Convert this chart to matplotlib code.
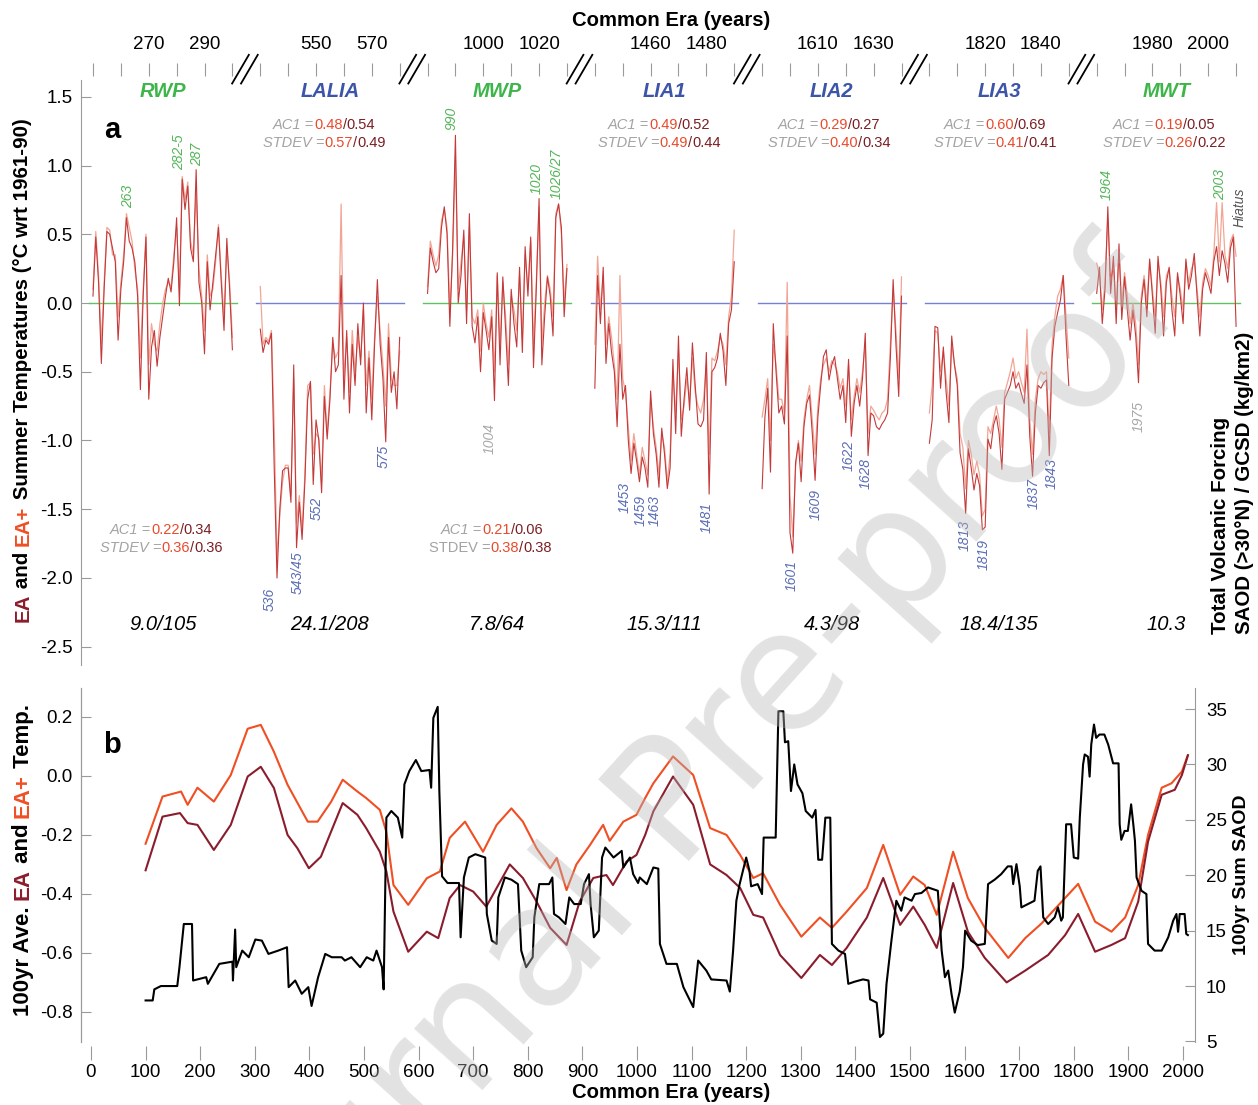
import matplotlib.pyplot as plt

plt.rcParams['font.family'] = ['Liberation Sans', 'DejaVu Sans']
plt.rcParams['axes.unicode_minus'] = False

# ======================================================
# Data : panel a (annual EA / EA+ anomalies per window)
# ======================================================

seg_names = ['RWP', 'LALIA', 'MWP', 'LIA1', 'LIA2', 'LIA3', 'MWT']
seg_start = [250, 530, 980, 1440, 1590, 1800, 1960]
seg_warm = [True, False, True, False, False, False, True]
seg_forcing = ['9.0/105', '24.1/208', '7.8/64', '15.3/111', '4.3/98', '18.4/135', '10.3']

ac1_ea_plus = ['0.22', '0.48', '0.21', '0.49', '0.29', '0.60', '0.19']
ac1_ea = ['0.34', '0.54', '0.06', '0.52', '0.27', '0.69', '0.05']
sd_ea_plus = ['0.36', '0.57', '0.38', '0.49', '0.40', '0.41', '0.26']
sd_ea = ['0.36', '0.49', '0.38', '0.44', '0.34', '0.41', '0.22']

rwp_ea = [0.05, 0.48, 0.15, -0.44, 0.10, 0.52, 0.50, 0.40, 0.30, -0.27,
          0.10, 0.30, 0.62, 0.45, 0.40, 0.30, 0.05, -0.63, 0.05, 0.48,
          -0.70, -0.32, -0.20, -0.46, -0.25, -0.10, 0.05, 0.18, 0.08, 0.30,
          0.62, -0.02, 0.90, 0.68, 0.85, 0.40, 0.30, 0.97, 0.15, 0.00,
          -0.37, 0.30, -0.05, 0.15, 0.35, 0.55, 0.15, -0.20, 0.47, 0.10, -0.34]
rwp_eap = [0.10, 0.52, 0.20, -0.30, 0.15, 0.55, 0.53, 0.35, 0.35, -0.10,
           0.15, 0.35, 0.65, 0.55, 0.45, 0.25, 0.10, -0.40, 0.10, 0.50,
           -0.45, -0.15, -0.30, -0.35, -0.15, 0.00, 0.10, 0.15, 0.12, 0.35,
           0.55, 0.10, 0.92, 0.75, 0.88, 0.45, 0.35, 0.80, 0.25, 0.05,
           -0.20, 0.35, 0.05, 0.10, 0.30, 0.57, 0.20, -0.10, 0.40, 0.15, -0.25]

lalia_ea = [-0.19, -0.36, -0.27, -0.30, -0.22, -1.20, -2.00, -1.50, -1.22, -1.20,
            -1.20, -1.45, -0.45, -1.78, -1.45, -1.72, -1.30, -0.70, -0.57, -1.32,
            -0.85, -1.00, -1.38, -0.68, -0.99, -0.70, -0.25, -0.50, -0.45, 0.20,
            -0.70, -0.20, -0.80, -0.30, -0.60, -0.15, -0.45, 0.00, -0.80, -0.40,
            -0.85, -0.30, 0.17, -0.30, -0.55, -1.01, -0.25, -0.65, -0.50, -0.77, -0.25]
lalia_eap = [0.12, -0.30, -0.25, -0.28, -0.20, -0.90, -1.85, -1.55, -1.30, -1.18,
             -1.18, -1.40, -0.55, -1.60, -1.40, -1.65, -1.25, -0.60, -0.58, -1.10,
             -0.95, -0.98, -1.30, -0.60, -0.95, -0.65, -0.30, -0.40, -0.35, 0.72,
             -0.55, -0.25, -0.65, -0.20, -0.50, -0.25, -0.40, -0.05, -0.60, -0.35,
             -0.70, -0.25, 0.05, -0.20, -0.45, -0.75, -0.15, -0.55, -0.60, -0.60, -0.35]

mwp_ea = [0.07, 0.40, 0.30, 0.22, 0.25, 0.55, 0.70, 0.50, -0.17, 0.40,
          1.22, 0.00, 0.20, 0.53, -0.15, 0.65, -0.17, -0.29, -0.10, -0.50,
          -0.07, -0.20, -0.34, -0.10, -0.71, 0.22, -0.45, 0.19, -0.20, -0.60,
          0.10, -0.15, -0.32, 0.26, -0.36, 0.41, 0.05, 0.48, -0.47, 0.10,
          0.76, -0.45, -0.10, 0.19, 0.05, -0.24, 0.62, 0.72, 0.55, -0.10, 0.25]
mwp_eap = [0.12, 0.45, 0.35, 0.27, 0.35, 0.60, 0.68, 0.55, -0.05, 0.35,
           1.05, 0.10, 0.30, 0.48, -0.05, 0.55, -0.10, -0.15, -0.05, -0.35,
           0.00, -0.15, -0.25, -0.05, -0.50, 0.20, -0.30, 0.15, -0.10, -0.45,
           0.05, -0.05, -0.20, 0.20, -0.25, 0.35, 0.10, 0.45, -0.30, 0.15,
           0.70, -0.30, 0.00, 0.20, 0.10, -0.10, 0.65, 0.72, 0.50, 0.00, 0.28]

lia1_ea = [-0.62, 0.20, -0.15, 0.26, -0.44, -0.15, -0.36, -0.50, -0.90, -0.30,
           -0.70, -0.60, -1.00, -1.24, -1.02, -1.15, -1.30, -1.12, -1.20, -1.34,
           -0.64, -0.95, -1.10, -1.34, -0.91, -1.10, -1.35, -1.20, -0.41, -0.95,
           -0.24, -0.97, -0.70, -0.47, -0.78, -0.29, -0.60, -0.88, -0.90, -0.85,
           -0.36, -1.39, -0.50, -0.47, -0.40, -0.22, -0.35, -0.60, -0.15, -0.05, 0.30]
lia1_eap = [-0.30, 0.34, -0.05, 0.20, -0.30, -0.10, -0.25, -0.45, -0.70, 0.20,
            -0.55, -0.65, -0.90, -1.15, -0.95, -1.10, -1.25, -1.05, -1.15, -1.25,
            -0.70, -0.90, -1.05, -1.25, -0.95, -1.05, -1.30, -1.10, -0.50, -0.80,
            -0.35, -0.85, -0.75, -0.55, -0.70, -0.40, -0.65, -0.75, -0.80, -0.70,
            -0.45, -1.10, -0.40, -0.42, -0.35, -0.25, -0.30, -0.45, -0.10, 0.05, 0.53]

lia2_ea = [-1.35, -0.83, -0.62, -1.23, -0.15, -0.50, -0.80, -0.75, -0.88, -0.24,
           -1.67, -1.82, -1.16, -1.02, -1.30, -0.90, -0.73, -0.67, -0.95, -1.29,
           -0.83, -0.60, -0.39, -0.34, -0.56, -0.45, -0.39, -0.55, -0.70, -0.60,
           -0.87, -0.41, -0.97, -0.73, -0.60, -0.75, -0.55, -0.22, -1.11, -0.80,
           -0.82, -0.90, -0.92, -0.88, -0.85, -0.80, -0.40, 0.17, -0.30, -0.68, 0.05]
lia2_eap = [-0.83, -0.70, -0.55, -1.00, -0.30, -0.45, -0.70, -0.70, -0.80, 0.15,
            -1.40, -1.70, -1.20, -1.00, -1.15, -0.85, -0.70, -0.60, -0.85, -1.10,
            -0.75, -0.55, -0.45, -0.40, -0.50, -0.42, -0.45, -0.50, -0.62, -0.55,
            -0.75, -0.45, -0.85, -0.68, -0.55, -0.65, -0.50, -0.30, -0.95, -0.75,
            -0.78, -0.82, -0.85, -0.80, -0.78, -0.70, -0.30, 0.10, -0.20, -0.55, 0.19]

lia3_ea = [-1.02, -0.85, -0.17, -0.18, -0.62, -0.32, -0.65, -0.87, -0.24, -0.45,
           -0.60, -1.09, -1.21, -1.53, -1.06, -1.20, -1.36, -1.24, -1.33, -1.65,
           -1.63, -0.99, -1.06, -0.89, -0.82, -0.95, -1.21, -0.70, -0.65, -0.60,
           -0.50, -0.62, -0.58, -0.66, -0.73, -0.45, -0.97, -1.26, -0.80, -0.60,
           -0.62, -0.58, -0.56, -1.11, -0.40, -0.17, -0.07, 0.02, 0.20, -0.24, -0.60]
lia3_eap = [-0.80, -0.60, -0.20, -0.22, -0.50, -0.35, -0.55, -0.75, -0.30, -0.45,
            -0.55, -0.95, -1.05, -1.35, -1.00, -1.10, -1.25, -1.15, -1.25, -1.55,
            -1.50, -0.90, -0.95, -0.85, -0.75, -0.85, -1.05, -0.65, -0.58, -0.50,
            -0.40, -0.55, -0.50, -0.58, -0.65, -0.19, -0.85, -1.10, -0.70, -0.55,
            -0.50, -0.52, -0.50, -0.95, -0.30, -0.10, 0.05, 0.10, 0.20, -0.10, -0.40]

mwt_ea = [0.07, 0.26, -0.15, 0.10, 0.70, 0.07, 0.34, -0.15, 0.43, -0.12,
          0.19, -0.05, -0.27, -0.05, -0.24, -0.58, 0.00, 0.17, -0.10, 0.32,
          0.05, -0.22, 0.34, 0.10, -0.24, 0.15, 0.26, -0.05, -0.24, 0.22,
          0.05, -0.15, 0.32, 0.10, 0.20, 0.36, 0.05, -0.24, 0.10, 0.22,
          0.15, 0.07, 0.30, 0.41, 0.20, 0.38, 0.29, 0.15, 0.40, 0.48, -0.17]
mwt_eap = [0.29, 0.20, -0.05, 0.15, 0.62, 0.15, 0.30, -0.05, 0.38, 0.00,
           0.22, 0.05, -0.15, 0.00, -0.15, -0.45, 0.05, 0.20, 0.00, 0.30,
           0.10, -0.10, 0.30, 0.15, -0.10, 0.20, 0.25, 0.05, -0.10, 0.20,
           0.10, -0.05, 0.30, 0.15, 0.25, 0.30, 0.10, -0.10, 0.15, 0.25,
           0.20, 0.12, 0.35, 0.73, 0.30, 0.73, 0.35, 0.25, 0.45, 0.50, 0.34]

seg_ea = [rwp_ea, lalia_ea, mwp_ea, lia1_ea, lia2_ea, lia3_ea, mwt_ea]
seg_eap = [rwp_eap, lalia_eap, mwp_eap, lia1_eap, lia2_eap, lia3_eap, mwt_eap]

# ======================================================
# Data : panel b (100 yr running means / sums)
# ======================================================

b_eap_years = [100, 131, 165, 177, 195, 225, 256, 287, 311, 335,
               360, 397, 415, 440, 461, 488, 504, 529, 541, 554,
               581, 615, 639, 657, 685, 718, 743, 770, 791, 816,
               841, 853, 871, 889, 914, 938, 950, 975, 999, 1015,
               1030, 1066, 1103, 1134, 1164, 1189, 1213, 1231, 1262, 1301,
               1335, 1357, 1384, 1421, 1451, 1482, 1506, 1527, 1549, 1579,
               1606, 1637, 1680, 1711, 1741, 1778, 1808, 1839, 1869, 1894,
               1918, 1936, 1961, 1979, 1998, 2009]
b_eap = [-0.23, -0.07, -0.053, -0.098, -0.04, -0.087, 0.003, 0.16, 0.173, 0.082,
         -0.03, -0.155, -0.155, -0.087, -0.013, -0.053, -0.075, -0.115, -0.19, -0.37,
         -0.437, -0.347, -0.324, -0.21, -0.155, -0.257, -0.166, -0.11, -0.155, -0.245,
         -0.313, -0.278, -0.387, -0.30, -0.234, -0.166, -0.22, -0.155, -0.132, -0.075,
         -0.025, 0.066, 0.003, -0.177, -0.2, -0.268, -0.346, -0.33, -0.437, -0.545,
         -0.48, -0.515, -0.46, -0.38, -0.234, -0.403, -0.341, -0.37, -0.471, -0.257,
         -0.414, -0.515, -0.617, -0.55, -0.5, -0.426, -0.366, -0.494, -0.528, -0.48,
         -0.37, -0.2, -0.04, -0.025, 0.015, 0.07]

b_ea_years = [100, 131, 163, 177, 195, 225, 256, 287, 311, 335,
              360, 378, 399, 421, 461, 488, 504, 529, 541, 554,
              581, 615, 636, 657, 676, 700, 724, 767, 791, 816,
              841, 871, 895, 920, 944, 956, 981, 999, 1015, 1030,
              1066, 1103, 1134, 1164, 1189, 1213, 1231, 1262, 1301, 1335,
              1357, 1384, 1421, 1451, 1482, 1506, 1527, 1549, 1579, 1606,
              1637, 1677, 1711, 1753, 1784, 1808, 1839, 1869, 1894, 1918,
              1936, 1961, 1985, 1998, 2009]
b_ea = [-0.32, -0.138, -0.126, -0.16, -0.166, -0.251, -0.166, -0.002, 0.031, -0.041,
        -0.2, -0.245, -0.313, -0.274, -0.092, -0.132, -0.177, -0.257, -0.324, -0.46,
        -0.596, -0.528, -0.55, -0.414, -0.37, -0.392, -0.443, -0.30, -0.346, -0.426,
        -0.515, -0.573, -0.426, -0.346, -0.336, -0.37, -0.29, -0.268, -0.2, -0.12,
        -0.002, -0.098, -0.30, -0.336, -0.38, -0.471, -0.48, -0.607, -0.685, -0.607,
        -0.641, -0.583, -0.48, -0.346, -0.505, -0.443, -0.505, -0.583, -0.363, -0.528,
        -0.617, -0.70, -0.66, -0.607, -0.54, -0.468, -0.596, -0.573, -0.55, -0.426,
        -0.223, -0.064, -0.047, 0.003, 0.07]

saod_years = [100, 113, 116, 128, 158, 162, 170, 185, 187, 211, 214, 235, 259, 260, 264,
              266, 277, 289, 301, 313, 325, 343, 359, 362, 374, 386, 398, 404, 416, 429,
              441, 459, 465, 477, 493, 505, 517, 523, 533, 536, 541, 550, 562, 570, 574,
              583, 595, 605, 620, 623, 627, 635, 638, 643, 653, 674, 677, 683, 692, 704,
              722, 725, 734, 743, 746, 758, 770, 782, 788, 797, 809, 812, 821, 839, 845,
              848, 857, 869, 876, 885, 897, 903, 912, 915, 921, 930, 936, 942, 957, 972,
              975, 987, 993, 1002, 1005, 1018, 1030, 1039, 1042, 1054, 1073, 1085, 1103, 1112, 1127,
              1136, 1164, 1170, 1176, 1182, 1188, 1200, 1206, 1209, 1221, 1229, 1232, 1254, 1259, 1268,
              1271, 1277, 1282, 1288, 1294, 1303, 1309, 1321, 1327, 1332, 1339, 1345, 1354, 1357, 1369,
              1381, 1387, 1399, 1414, 1424, 1427, 1439, 1445, 1451, 1457, 1466, 1475, 1484, 1490, 1503,
              1509, 1521, 1533, 1551, 1558, 1564, 1570, 1576, 1582, 1591, 1597, 1601, 1612, 1624, 1637,
              1643, 1655, 1667, 1679, 1686, 1689, 1695, 1701, 1704, 1716, 1728, 1734, 1739, 1744, 1753,
              1765, 1771, 1777, 1780, 1786, 1795, 1800, 1808, 1811, 1817, 1820, 1826, 1829, 1832, 1837,
              1841, 1847, 1856, 1863, 1872, 1882, 1884, 1887, 1893, 1899, 1905, 1909, 1912, 1915, 1924,
              1933, 1936, 1948, 1961, 1973, 1982, 1988, 1991, 1994, 2003, 2006, 2009]
saod_sum = [8.7, 8.7, 9.7, 10.0, 10.0, 11.7, 15.6, 15.6, 10.5, 10.8, 10.2, 12.0, 12.2, 10.5, 15.1,
            11.7, 13.2, 12.6, 14.2, 14.1, 12.9, 13.2, 13.5, 9.9, 10.5, 9.3, 9.9, 8.2, 10.8, 12.9,
            12.6, 12.6, 12.3, 12.6, 11.7, 12.6, 12.3, 13.2, 11.7, 9.7, 25.2, 25.8, 25.2, 23.4, 28.2,
            29.4, 30.4, 29.4, 29.5, 27.9, 34.2, 35.2, 27.6, 19.9, 19.3, 19.3, 14.4, 19.8, 21.6, 21.9,
            21.6, 16.5, 14.1, 13.8, 18.0, 19.8, 19.6, 19.2, 13.2, 11.7, 12.6, 16.2, 19.2, 19.2, 19.8,
            16.5, 16.2, 15.6, 18.0, 17.4, 17.4, 19.2, 20.1, 17.4, 14.4, 15.0, 21.6, 22.5, 21.6, 22.2,
            20.7, 21.6, 20.1, 19.3, 19.8, 19.2, 20.7, 20.6, 13.8, 12.0, 12.0, 9.9, 8.1, 12.3, 11.4,
            10.6, 10.5, 9.5, 13.2, 17.7, 19.2, 21.6, 20.4, 19.0, 19.2, 18.3, 23.4, 23.4, 34.8, 34.8,
            32.0, 32.1, 27.6, 30.0, 28.2, 27.4, 25.8, 25.2, 25.9, 21.4, 21.4, 25.2, 25.2, 13.8, 13.2,
            12.9, 10.2, 10.4, 10.6, 10.5, 8.8, 8.5, 5.4, 5.7, 10.2, 14.1, 17.7, 16.8, 18.0, 17.7,
            18.3, 18.4, 18.9, 18.6, 13.2, 10.8, 11.4, 9.3, 7.6, 9.5, 11.7, 15.0, 14.1, 13.7, 13.8,
            19.2, 19.6, 20.1, 20.8, 20.8, 19.2, 21.0, 19.0, 17.1, 17.4, 17.7, 20.4, 20.8, 16.2, 15.6,
            16.2, 17.1, 15.9, 16.2, 24.6, 24.6, 21.6, 21.5, 25.2, 30.0, 30.9, 30.7, 28.9, 31.8, 33.6,
            32.4, 32.7, 32.7, 31.8, 30.1, 30.1, 24.6, 23.2, 24.0, 24.0, 26.4, 24.6, 23.1, 19.8, 18.6,
            18.3, 13.8, 13.2, 13.2, 14.4, 15.9, 16.5, 14.9, 16.5, 16.5, 14.7, 14.6]

# event years labelled in panel a: (segment, year, text, colour key, level)
events = [(0, 262.6, '263', 'w', 0.69), (0, 281.0, '282-5', 'w', 0.97),
          (0, 287.3, '287', 'w', 1.00), (2, 988.5, '990', 'w', 1.26),
          (2, 1019.3, '1020', 'w', 0.79), (2, 1026.4, '1026/27', 'w', 0.76),
          (6, 1963.7, '1964', 'w', 0.75), (6, 2004.2, '2003', 'w', 0.75),
          (1, 533.5, '536', 'c', -2.07), (1, 543.5, '543/45', 'c', -1.81),
          (1, 550.3, '552', 'c', -1.41), (1, 574.4, '575', 'c', -1.03),
          (2, 1002.4, '1004', 'g', -0.87),
          (3, 1450.8, '1453', 'c', -1.30), (3, 1456.6, '1459', 'c', -1.40),
          (3, 1461.6, '1463', 'c', -1.40), (3, 1480.2, '1481', 'c', -1.45),
          (4, 1600.7, '1601', 'c', -1.87), (4, 1609.3, '1609', 'c', -1.35),
          (4, 1621.2, '1622', 'c', -1.00), (4, 1627.3, '1628', 'c', -1.13),
          (5, 1812.8, '1813', 'c', -1.58), (5, 1819.6, '1819', 'c', -1.72),
          (5, 1837.5, '1837', 'c', -1.27), (5, 1844.0, '1843', 'c', -1.13),
          (6, 1975.2, '1975', 'g', -0.71)]

# ======================================================
# Style
# ======================================================

W, H = 1258, 1105

C_WARM = '#3db54a'
C_COLD = '#3d55a8'
C_ZERO_W = '#5fc35f'
C_ZERO_C = '#7581d8'
C_EAP_A = '#f2a595'
C_EA_A = '#c4393a'
C_EAP = '#f04e23'
C_EA = '#8b1c2c'
C_NUM1 = '#ea4a2c'
C_NUM2 = '#7a1e24'
C_GRAY = '#a3a3a3'
C_SPINE = '#9a9a9a'
ev_colors = {'w': '#55b55a', 'c': '#5b6db5', 'g': '#a8a8a8'}


def fx(px):
    return px / W


def fy(py):
    return 1 - py / H


def chain(ax, x, y, pieces, rotation=0, size=13, weight='normal', transform=None):
    s, c, st = pieces[0]
    if rotation == 90:
        t = ax.text(x, y, s, color=c, rotation=90, ha='center', va='bottom',
                    fontsize=size, fontweight=weight, fontstyle=st,
                    transform=transform, clip_on=False)
        for s, c, st in pieces[1:]:
            t = ax.annotate(s, xy=(0.5, 1), xycoords=t, rotation=90,
                            ha='center', va='bottom', color=c, fontsize=size,
                            fontweight=weight, fontstyle=st, annotation_clip=False)
    else:
        t = ax.text(x, y, s, color=c, ha='left', va='center', fontsize=size,
                    fontweight=weight, fontstyle=st, transform=transform,
                    clip_on=False)
        for s, c, st in pieces[1:]:
            t = ax.annotate(s, xy=(1, 0), xycoords=t, ha='left', va='bottom',
                            color=c, fontsize=size, fontweight=weight,
                            fontstyle=st, annotation_clip=False)
    return t


fig = plt.figure(figsize=(W / 100, H / 100), dpi=100)

# ======================================================
# Panel a
# ======================================================

ax = fig.add_axes([fx(81), fy(665), fx(1245) - fx(81), fy(80) - fy(665)])
ax.set_xlim(-4.3, 413.2)
ax.set_ylim(-2.633, 1.622)

for k in range(7):
    off = k * 60
    xs = [off + i for i in range(len(seg_ea[k]))]
    zc = C_WARM if seg_warm[k] else C_COLD
    ax.plot([off - 1.5, off + 51.5], [0, 0],
            color=C_ZERO_W if seg_warm[k] else C_ZERO_C, lw=1.0)
    ax.plot(xs, seg_eap[k], color=C_EAP_A, lw=0.9)
    ax.plot(xs, seg_ea[k], color=C_EA_A, lw=0.8)

    ax.text(off + 25, 1.54, seg_names[k], color=zc, fontsize=14.5,
            fontweight='bold', fontstyle='italic', ha='center', va='center')
    ax.text(off + 25, -2.34, seg_forcing[k], fontsize=14.5,
            fontstyle='italic', ha='center', va='center')

# AC1 / STDEV blocks
ac_pos = {0: (110, 530), 1: (273, 125), 2: (441, 530), 3: (608, 125),
          4: (778, 125), 5: (944, 125), 6: (1113, 125)}
for k, (px, py) in ac_pos.items():
    chain(ax, fx(px), fy(py),
          [('AC1 =', C_GRAY, 'italic'), (ac1_ea_plus[k], C_NUM1, 'normal'),
           ('/', C_NUM2, 'normal'), (ac1_ea[k], C_NUM2, 'normal')],
          size=10.5, transform=fig.transFigure)
    st = 'normal' if k == 2 else 'italic'
    chain(ax, fx(px - 10 - (2 if k == 2 else 0)), fy(py + 18),
          [('STDEV =', C_GRAY, st), (sd_ea_plus[k], C_NUM1, 'normal'),
           ('/', C_NUM2, 'normal'), (sd_ea[k], C_NUM2, 'normal')],
          size=10.5, transform=fig.transFigure)

for k, yr, s, ck, lev in events:
    x = k * 60 + (yr - seg_start[k])
    ax.text(x, lev, s, rotation=90, fontsize=10, fontstyle='italic',
            color=ev_colors[ck], ha='center',
            va='bottom' if lev > 0 else 'top')
ax.text(6 * 60 + 51.4, 0.55, 'Hiatus', rotation=90, fontsize=10,
        fontstyle='italic', color='#555555', ha='center', va='bottom')

ax.text(6.8, 1.26, 'a', fontsize=21, fontweight='bold', ha='center', va='center')

# top axis with broken segments
ticks = [k * 60 + j * 10 for k in range(7) for j in range(6)]
labels = [str(seg_start[k] + j * 10) if j in (2, 4) else ''
          for k in range(7) for j in range(6)]
ax.xaxis.tick_top()
ax.set_xticks(ticks)
ax.set_xticklabels(labels)
ax.tick_params(axis='x', direction='out', length=9.5, width=0.8,
               color=C_SPINE, pad=7, labelsize=13.5)
ax.spines['top'].set_position(('outward', 3))
for side in ['top', 'right', 'bottom']:
    ax.spines[side].set_visible(False)
ax.spines['left'].set_color(C_SPINE)

xt = ax.get_xaxis_transform()
for k in range(6):
    c = k * 60 + 54.5
    for d in (-1.6, 1.6):
        ax.plot([c + d - 3.0, c + d + 3.0], [0.994, 1.043], color='black',
                lw=1.3, transform=xt, clip_on=False)

ax.set_yticks([-2.5, -2.0, -1.5, -1.0, -0.5, 0.0, 0.5, 1.0, 1.5])
ax.set_yticklabels(['%.1f' % v for v in ax.get_yticks()])
ax.tick_params(axis='y', direction='in', length=7, width=0.8,
               color=C_SPINE, pad=6, labelsize=13.5)

fig.text(fx(671), fy(20), 'Common Era (years)', fontsize=14.6,
         fontweight='bold', ha='center', va='center')

chain(ax, fx(23), fy(622),
      [('EA', C_EA, 'normal'), (' and ', 'black', 'normal'),
       ('EA+', C_EAP, 'normal'),
       (' Summer Temperatures (°C wrt 1961-90)', 'black', 'normal')],
      rotation=90, size=14.8, weight='bold', transform=fig.transFigure)

fig.text(fx(1221), fy(634), 'Total Volcanic Forcing', rotation=90,
         fontsize=14.8, fontweight='bold', ha='center', va='bottom')
fig.text(fx(1244), fy(634), 'SAOD (>30°N) / GCSD (kg/km2)', rotation=90,
         fontsize=14.8, fontweight='bold', ha='center', va='bottom')

# ======================================================
# Panel b
# ======================================================

bx = fig.add_axes([fx(81), fy(1042), fx(1195) - fx(81), fy(688) - fy(1042)])
bx.set_xlim(-18.3, 2022)
bx.set_ylim(-0.902, 0.298)

bx.plot(b_eap_years, b_eap, color=C_EAP, lw=1.5)
bx.plot(b_ea_years, b_ea, color=C_EA, lw=1.5)

bx2 = bx.twinx()
bx2.set_ylim(4.95, 36.9)
bx2.plot(saod_years, saod_sum, color='black', lw=1.5)

bx.set_xticks(range(0, 2001, 100))
bx.set_xticklabels([str(v) for v in range(0, 2001, 100)])
bx.set_yticks([-0.8, -0.6, -0.4, -0.2, 0.0, 0.2])
bx.set_yticklabels(['%.1f' % v for v in [-0.8, -0.6, -0.4, -0.2, 0.0, 0.2]])
bx.tick_params(axis='x', direction='out', length=10, width=0.8,
               color=C_SPINE, pad=3, labelsize=13.5)
bx.tick_params(axis='y', direction='in', length=7, width=0.8,
               color=C_SPINE, pad=6, labelsize=13.5)
bx.spines['bottom'].set_position(('outward', 3))
for a in (bx, bx2):
    a.spines['bottom'].set_visible(False)
    a.spines['top'].set_visible(False)
    a.spines['left'].set_color(C_SPINE)
    a.spines['right'].set_color(C_SPINE)
bx.spines['right'].set_visible(False)

bx2.set_yticks([5, 10, 15, 20, 25, 30, 35])
bx2.set_yticklabels(['5', '10', '15', '20', '25', '30', '35'])
bx2.tick_params(axis='y', direction='in', length=7, width=0.8,
                color=C_SPINE, pad=8, labelsize=13.5)
fig.text(fx(1242), fy(875), '100yr Sum SAOD', rotation=90, fontsize=14,
         fontweight='bold', ha='center', va='center')

fig.text(fx(671), fy(1092), 'Common Era (years)', fontsize=14.6,
         fontweight='bold', ha='center', va='center')
bx.text(38.5, 0.105, 'b', fontsize=21, fontweight='bold', ha='center', va='center')

chain(bx, fx(23), fy(1016),
      [('100yr Ave. ', 'black', 'normal'), ('EA', C_EA, 'normal'),
       (' and ', 'black', 'normal'), ('EA+', C_EAP, 'normal'),
       (' Temp.', 'black', 'normal')],
      rotation=90, size=16, weight='bold', transform=fig.transFigure)

# watermark
fig.text(fx(690), fy(800), 'Journal Pre-proof', rotation=48, fontsize=120,
         color='#b8b8b8', alpha=0.4, ha='center', va='center',
         family='DejaVu Sans', zorder=10)

fig.savefig('out.png', dpi=100, facecolor='white')
